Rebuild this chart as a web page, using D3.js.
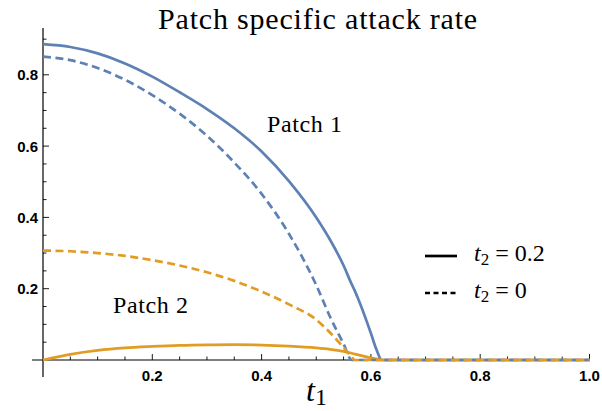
<!DOCTYPE html>
<html><head><meta charset="utf-8">
<script src="https://cdn.jsdelivr.net/npm/d3@7"></script>
<style>body{margin:0;background:#fff}svg{display:block}</style>
</head><body><svg id="c" width="602" height="411"></svg>
<script>
const xs = [0,0.05,0.1,0.15,0.2,0.25,0.3,0.35,0.4,0.45,0.5,0.525,0.55,0.565,0.57,0.575,0.6,0.61,0.62,0.65,0.7,0.8,0.9,1.0];
const patch1T02 = [0.886,0.878,0.860,0.832,0.795,0.751,0.704,0.650,0.585,0.502,0.400,0.338,0.265,0.212,0.196,0.178,0.075,0.030,0.0,0,0,0,0,0];
const patch1T0  = [0.851,0.841,0.819,0.786,0.743,0.691,0.629,0.554,0.466,0.354,0.210,0.122,0.045,0.0,0,0,0,0,0,0,0,0,0,0];
const patch2T02 = [0.0,0.016,0.027,0.034,0.038,0.041,0.0425,0.043,0.042,0.039,0.034,0.030,0.024,0.019,0.017,0.015,0.006,0.003,0.0,0,0,0,0,0];
const patch2T0  = [0.307,0.305,0.300,0.292,0.280,0.265,0.246,0.222,0.192,0.156,0.113,0.077,0.035,0.008,0.0,0,0,0,0,0,0,0,0,0];
const xTicks = [0.2,0.4,0.6,0.8,1.0];
const yTicks = [0.2,0.4,0.6,0.8];
const colors = {blue:"#5E81B5", orange:"#E19C24"};

const svg = d3.select("#c");
const x = d3.scaleLinear().domain([0,1]).range([43,589.5]);
const y = d3.scaleLinear().domain([0,0.9313]).range([360,28]);

// axes
const g = svg.append("g").attr("stroke","#000").attr("stroke-width",1.2);
g.append("line").attr("x1",32).attr("x2",590).attr("y1",y(0)).attr("y2",y(0));
g.append("line").attr("x1",x(0)).attr("x2",x(0)).attr("y1",y(0.9313)).attr("y2",377);
const minorX = d3.range(1,21).map(i=>i*0.05);
const minorY = d3.range(1,19).map(i=>i*0.05);
minorX.forEach(v=>{
  const major = xTicks.some(t=>Math.abs(t-v)<1e-6);
  g.append("line").attr("x1",x(v)).attr("x2",x(v)).attr("y1",y(0)).attr("y2",y(0)-(major?6:3.5)).attr("stroke-width",0.9);
});
minorY.forEach(v=>{
  const major = yTicks.some(t=>Math.abs(t-v)<1e-6);
  g.append("line").attr("y1",y(v)).attr("y2",y(v)).attr("x1",x(0)).attr("x2",x(0)+(major?6:3.5)).attr("stroke-width",0.9);
});
svg.append("g").selectAll("text").data(xTicks).join("text")
  .attr("x",d=>x(d)).attr("y",381).attr("text-anchor","middle")
  .attr("font-family","Liberation Sans, Arial, sans-serif").attr("font-weight","bold").attr("font-size",15)
  .text(d=>d3.format(".1f")(d));
svg.append("g").selectAll("text").data(yTicks).join("text")
  .attr("x",38).attr("y",d=>y(d)+5.5).attr("text-anchor","end")
  .attr("font-family","Liberation Sans, Arial, sans-serif").attr("font-weight","bold").attr("font-size",15)
  .text(d=>d3.format(".1f")(d));

// lines
const line = d3.line().x(d=>x(d[0])).y(d=>y(d[1])).curve(d3.curveMonotoneX);
const series = [
  {v:patch1T02, c:colors.blue, dash:null},
  {v:patch2T02, c:colors.orange, dash:null},
  {v:patch1T0, c:colors.blue, dash:"8,4.5"},
  {v:patch2T0, c:colors.orange, dash:"8,4.5"}
];
series.forEach(s=>{
  svg.append("path").datum(xs.map((xx,i)=>[xx,s.v[i]]))
    .attr("d",line).attr("fill","none").attr("stroke",s.c).attr("stroke-width",2.7)
    .attr("stroke-dasharray",s.dash);
});

// texts
const serif = "Liberation Serif, DejaVu Serif, serif";
svg.append("text").attr("x",318).attr("y",29).attr("text-anchor","middle")
  .attr("font-family",serif).attr("font-size",30).attr("letter-spacing",0.8).text("Patch specific attack rate");
svg.append("text").attr("x",267).attr("y",132).attr("font-family",serif).attr("font-size",24).attr("letter-spacing",0.6).text("Patch 1");
svg.append("text").attr("x",113).attr("y",313).attr("font-family",serif).attr("font-size",24).attr("letter-spacing",0.6).text("Patch 2");

const xl = svg.append("text").attr("x",306).attr("y",401).attr("font-family",serif).attr("font-size",32);
xl.append("tspan").attr("font-style","italic").text("t");
xl.append("tspan").attr("font-size",24).attr("dy",4).text("1");

// legend
const leg = [{y:256, dash:null, val:"0.2"},{y:293, dash:"5,3.5", val:"0"}];
leg.forEach(l=>{
  svg.append("line").attr("x1",425).attr("x2",457).attr("y1",l.y).attr("y2",l.y)
    .attr("stroke","#000").attr("stroke-width",2.7).attr("stroke-dasharray",l.dash);
  const t = svg.append("text").attr("x",474).attr("y",l.y+5).attr("font-family",serif).attr("font-size",24);
  t.append("tspan").attr("font-style","italic").text("t");
  t.append("tspan").attr("font-size",17).attr("dy",4).text("2");
  t.append("tspan").attr("dy",-4).attr("xml:space","preserve").text(" = " + l.val);
});
</script></body></html>
